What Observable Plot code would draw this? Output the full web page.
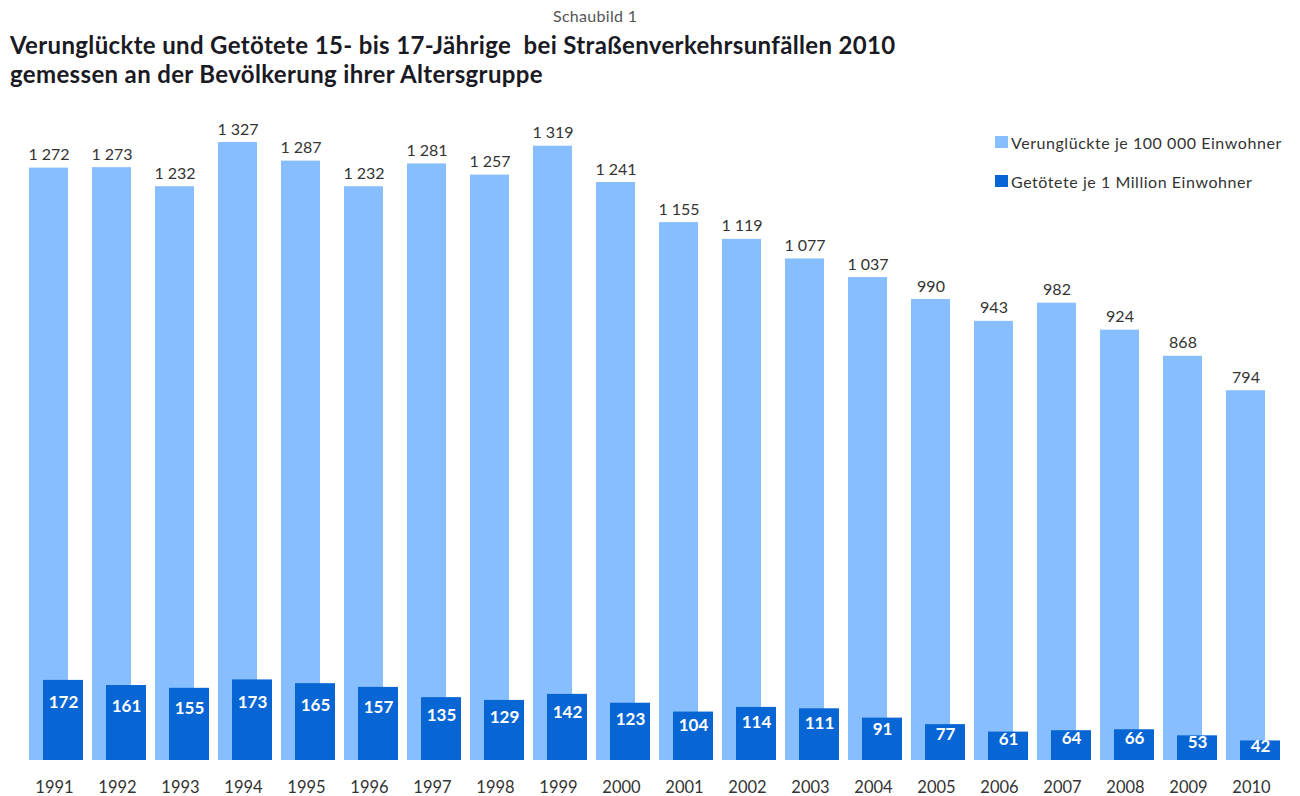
<!DOCTYPE html>
<html><head><meta charset="utf-8">
<script src="https://cdn.jsdelivr.net/npm/d3@7"></script>
<script src="https://cdn.jsdelivr.net/npm/@observablehq/plot@0.6"></script>
<style>
body{margin:0;background:#fff;font-family:Lato,"Open Sans",sans-serif;}
#wrap{position:relative;width:1300px;height:796px;overflow:hidden}
#head{height:100px;position:relative}
.sub{position:absolute;left:553px;top:6px;font-size:16px;letter-spacing:0.3px;color:#555;white-space:nowrap}
.t{position:absolute;left:10px;font-weight:bold;font-size:24px;letter-spacing:0.35px;color:#1a1a24;white-space:nowrap}
#legend{position:absolute;left:995px;top:132px;font-size:16px;letter-spacing:0.55px;color:#333}
#legend div{display:flex;align-items:center;height:20px;margin-bottom:19px;white-space:nowrap}
#legend span.sw{display:inline-block;width:13px;height:12px;margin-right:3px}
</style></head>
<body>
<div id="wrap">
  <div id="head">
    <div class="sub">Schaubild 1</div>
    <div class="t" style="top:30px">Verunglückte und Getötete 15- bis 17-Jährige&nbsp; bei Straßenverkehrsunfällen 2010</div>
    <div class="t" style="top:59px">gemessen an der Bevölkerung ihrer Altersgruppe</div>
  </div>
  <div id="chart"></div>
  <div id="legend"></div>
</div>
<script>
const years = [1991,1992,1993,1994,1995,1996,1997,1998,1999,2000,2001,2002,2003,2004,2005,2006,2007,2008,2009,2010];
const verunglueckte = [1272,1273,1232,1327,1287,1232,1281,1257,1319,1241,1155,1119,1077,1037,990,943,982,924,868,794];
const getoetete = [172,161,155,173,165,157,135,129,142,123,104,114,111,91,77,61,64,66,53,42];
const seriesNames = ["Verunglückte je 100 000 Einwohner", "Getötete je 1 Million Einwohner"];
const colors = ["#87BEFF", "#0866D4"];

const data = years.map((y, i) => ({year: String(y), v: verunglueckte[i], g: getoetete[i]}));
const fmt = v => v >= 1000 ? Math.floor(v/1000) + " " + String(v % 1000).padStart(3, "0") : String(v);

const chart = Plot.plot({
  width: 1300,
  height: 696,
  marginLeft: 26,
  marginRight: 18,
  marginTop: 8,
  marginBottom: 36,
  x: {domain: years.map(String), paddingInner: 0.146, paddingOuter: 0, label: null},
  y: {domain: [0, 1400], axis: null},
  style: {fontFamily: "Lato, 'Open Sans', sans-serif"},
  marks: [
    Plot.barY(data, {x: "year", y: "v", fill: colors[0], insetRight: 15}),
    Plot.barY(data, {x: "year", y: "g", fill: colors[1], insetLeft: 14}),
    Plot.text(data, {x: "year", y: "v", text: d => fmt(d.v), dx: -7.5, dy: -13, fontSize: 16, letterSpacing: 0.3, fill: "#333"}),
    Plot.text(data, {x: "year", y: d => d.g * 0.72, text: d => String(d.g), dx: 7, fontSize: 17, fontWeight: "bold", fill: "#fff"}),
    Plot.axisX({tickSize: 0, tickPadding: 21, fontSize: 16.5, fill: "#333", dx: -2, label: null})
  ]
});
document.getElementById("chart").appendChild(chart);

const leg = document.getElementById("legend");
seriesNames.forEach((n, i) => {
  const d = document.createElement("div");
  d.innerHTML = `<span class="sw" style="background:${colors[i]}"></span>${n}`;
  leg.appendChild(d);
});
</script>
</body></html>
